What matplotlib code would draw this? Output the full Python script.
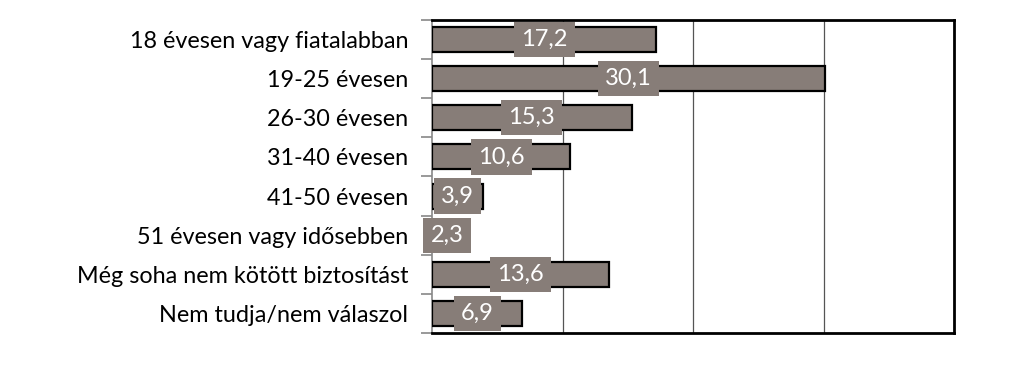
import matplotlib
matplotlib.use("Agg")
import matplotlib.pyplot as plt
import numpy as np

categories = [
    "18 évesen vagy fiatalabban",
    "19-25 évesen",
    "26-30 évesen",
    "31-40 évesen",
    "41-50 évesen",
    "51 évesen vagy idősebben",
    "Még soha nem kötött biztosítást",
    "Nem tudja/nem válaszol",
]
values = [17.2, 30.1, 15.3, 10.6, 3.9, 2.3, 13.6, 6.9]
value_labels = ["17,2", "30,1", "15,3", "10,6", "3,9", "2,3", "13,6", "6,9"]

bar_color = "#877d78"
plt.rcParams['font.family'] = ['Lato', 'DejaVu Sans']

fig = plt.figure(figsize=(10.23, 3.67), dpi=100)
ax = fig.add_axes([432/1023, 1 - 333/367, (954-432)/1023, (333-20)/367])

y = np.arange(len(categories))
ax.barh(y, values, height=0.64, color=bar_color, edgecolor="black", linewidth=1.6, zorder=3)
ax.set_xlim(0, 40)
ax.set_ylim(len(categories) - 0.5, -0.5)

ax.set_xticks([10, 20, 30])
ax.set_xticklabels([])
ax.tick_params(axis='x', length=0)
ax.grid(axis='x', color="#555555", linewidth=0.9, zorder=0)

ax.set_yticks(np.arange(-0.5, len(categories), 1.0))
ax.set_yticklabels([])
ax.set_yticks(y, minor=True)
ax.set_yticklabels(categories, minor=True, fontsize=16.8)
ax.tick_params(axis='y', which='minor', length=0, pad=17)
ax.tick_params(axis='y', which='major', length=8, color="#888888", width=1.2)

for s in ['top', 'right', 'bottom']:
    ax.spines[s].set_color('black')
    ax.spines[s].set_linewidth(2)
ax.spines['left'].set_color('#888888')
ax.spines['left'].set_linewidth(1.2)

for yi, v, lab in zip(y, values, value_labels):
    ax.text(v / 2, yi, lab, ha='center', va='center', color='white', fontsize=17,
            zorder=5,
            bbox=dict(boxstyle='square,pad=0.3', facecolor=bar_color, edgecolor='none'))

fig.savefig("out.png", dpi=100)
